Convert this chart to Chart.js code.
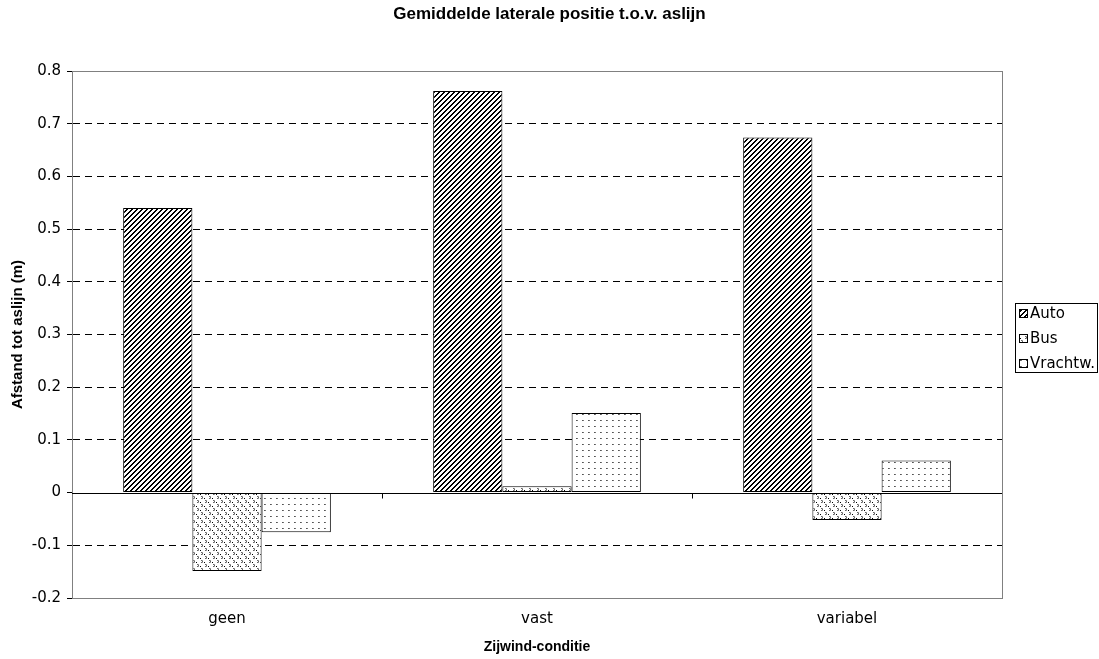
<!DOCTYPE html>
<html>
<head>
<meta charset="utf-8">
<script src="https://cdn.jsdelivr.net/npm/chart.js@4"></script>
<style>
  body { margin: 0; background: #fff; }
  #wrap { width: 1099px; height: 659px; }
</style>
</head>
<body>
<div id="wrap"><canvas id="myChart"></canvas></div>
<script>
// data
const categories = ['geen', 'vast', 'variabel'];
const auto = [0.540, 0.762, 0.674];
const bus = [-0.149, 0.012, -0.052];
const vrachtw = [-0.075, 0.151, 0.061];
const seriesNames = ['Auto', 'Bus', 'Vrachtw.'];
const chartTitle = 'Gemiddelde laterale positie t.o.v. aslijn';

const FONT = "'DejaVu Sans', sans-serif";
const BOLD = "'Liberation Sans', Arial, sans-serif";

// little pixel tiles to imitate the old hatch fills
function makePattern(w, h, pixels) {
  const c = document.createElement('canvas');
  c.width = w; c.height = h;
  const g = c.getContext('2d');
  g.fillStyle = '#fff';
  g.fillRect(0, 0, w, h);
  pixels.forEach(p => {
    g.fillStyle = p[2];
    g.fillRect(p[0], p[1], 1, 1);
  });
  return g.createPattern(c, 'repeat');
}

function stripes() {
  const px = [];
  for (let y = 0; y < 5; y++)
    for (let x = 0; x < 5; x++)
      if ((x + y) % 5 === 0 || (x + y) % 5 === 1) px.push([x, y, '#000']);
  return makePattern(5, 5, px);
}

const autoFill = stripes();
const busFill = makePattern(8, 8, [
  [1, 0, '#666'], [2, 1, '#666'], [1, 2, '#666'], [2, 0, '#999'], [2, 2, '#999'],
  [5, 4, '#666'], [6, 5, '#666'], [5, 6, '#666'], [6, 4, '#999'], [6, 6, '#999'],
  [4, 2, '#000'], [0, 6, '#000']
]);
const vrachtFill = makePattern(6, 6, [[0, 0, '#555'], [1, 0, '#777']]);
const fills = [autoFill, busFill, vrachtFill];

// grey plot frame, solid zero line, small ticks on the category axis, title and legend
const framePlugin = {
  id: 'frame',
  beforeDatasetsDraw(chart) {
    const {ctx, chartArea: a, scales} = chart;
    ctx.save();
    ctx.strokeStyle = '#808080';
    ctx.lineWidth = 1;
    ctx.strokeRect(a.left + 0.5, a.top + 0.5, a.right - a.left, a.bottom - a.top);
    const y0 = Math.round(scales.y.getPixelForValue(0)) + 0.5;
    ctx.strokeStyle = '#000';
    ctx.beginPath();
    ctx.moveTo(a.left, y0);
    ctx.lineTo(a.right, y0);
    const step = (a.right - a.left) / categories.length;
    for (let i = 1; i < categories.length; i++) {
      const x = Math.round(a.left + step * i) + 0.5;
      ctx.moveTo(x, y0);
      ctx.lineTo(x, y0 + 5);
    }
    ctx.stroke();
    ctx.restore();
  },
  afterDraw(chart) {
    const {ctx} = chart;
    ctx.save();
    ctx.fillStyle = '#000';
    ctx.font = 'bold 17px ' + BOLD;
    ctx.textAlign = 'center';
    ctx.textBaseline = 'middle';
    ctx.fillText(chartTitle, chart.width / 2, 14);

    const bx = 1015, by = 303, bw = 82, bh = 69;
    ctx.fillStyle = '#fff';
    ctx.fillRect(bx, by, bw, bh);
    ctx.strokeStyle = '#000';
    ctx.lineWidth = 1;
    ctx.strokeRect(bx + 0.5, by + 0.5, bw, bh);
    ctx.font = '15px ' + FONT;
    ctx.textAlign = 'left';
    chart.data.datasets.forEach((ds, i) => {
      const cy = by + 10 + i * 25;
      ctx.fillStyle = ds.backgroundColor;
      ctx.fillRect(bx + 4, cy - 4, 9, 9);
      ctx.strokeStyle = '#000';
      ctx.strokeRect(bx + 4.5, cy - 3.5, 8, 8);
      ctx.fillStyle = '#000';
      ctx.fillText(ds.label, bx + 15, cy + 1);
    });
    ctx.restore();
  }
};

const myChart = new Chart(document.getElementById('myChart'), {
  type: 'bar',
  data: {
    labels: categories,
    datasets: [auto, bus, vrachtw].map((values, i) => ({
      label: seriesNames[i],
      data: values,
      backgroundColor: fills[i],
      borderColor: '#000',
      borderWidth: 1,
      borderSkipped: false,
      barPercentage: 1,
      categoryPercentage: 0.67
    }))
  },
  options: {
    responsive: true,
    maintainAspectRatio: false,
    animation: false,
    layout: { padding: { left: 0, right: 97, top: 71, bottom: 0 } },
    plugins: {
      legend: { display: false },
      tooltip: { enabled: false },
      title: { display: false }
    },
    scales: {
      x: {
        grid: { display: false, drawTicks: false },
        border: { display: false },
        ticks: { color: '#000', font: { family: FONT, size: 15 }, padding: 12, maxRotation: 0 },
        title: {
          display: true,
          text: 'Zijwind-conditie',
          color: '#000',
          font: { family: BOLD, size: 14, weight: 'bold' },
          padding: { top: 0, bottom: 3 }
        },
        afterFit(scale) { scale.height = 61; }
      },
      y: {
        min: -0.2,
        max: 0.8,
        ticks: {
          stepSize: 0.1,
          color: '#000',
          font: { family: FONT, size: 15 },
          padding: 6,
          callback: v => Math.abs(v) < 1e-9 ? '0' : v.toFixed(1)
        },
        grid: {
          color: ctx => {
            const v = ctx.tick ? ctx.tick.value : null;
            if (v === null) return 'rgba(0,0,0,0)';
            if (Math.abs(v) < 1e-9 || Math.abs(v - 0.8) < 1e-9 || Math.abs(v + 0.2) < 1e-9) return 'rgba(0,0,0,0)';
            return '#000';
          },
          tickColor: '#000',
          tickLength: 5,
          lineWidth: 1
        },
        border: { display: true, color: '#000', width: 1, dash: [7, 5] },
        title: {
          display: true,
          text: 'Afstand tot aslijn (m)',
          color: '#000',
          font: { family: BOLD, size: 15, weight: 'bold' },
          padding: { top: 9, bottom: 0 }
        },
        afterFit(scale) { scale.width = 72; }
      }
    }
  },
  plugins: [framePlugin]
});
</script>
</body>
</html>
